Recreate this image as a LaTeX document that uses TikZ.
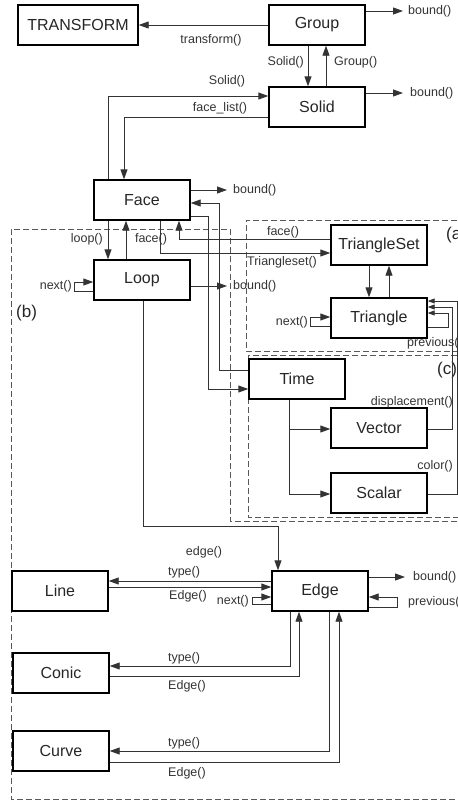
\documentclass[tikz,border=0pt]{standalone}
\usepackage{fontspec}
\setmainfont{Liberation Sans}
\usetikzlibrary{arrows.meta}

\tikzset{
  box/.style={draw=black, line width=1.4pt, minimum height=40pt, minimum width=96pt,
              inner sep=0pt, text=black!85, font=\fontsize{16}{18}\selectfont},
  conn/.style={draw=black!80, line width=0.9pt},
  arr/.style={conn, -{Triangle[length=10pt,width=7pt]}},
  sarr/.style={conn, -{Triangle[length=7pt,width=5pt]}},
  lbl/.style={inner sep=0pt, font=\fontsize{12.5}{14}\selectfont, text=black!80},
  region/.style={draw=black!65, line width=0.9pt, dash pattern=on 6pt off 3pt},
  tag/.style={inner sep=0pt, anchor=west, text=black!85, font=\fontsize{17}{19}\selectfont}
}

\begin{document}
\begin{tikzpicture}[x=1pt, y=-1pt]
\useasboundingbox (0,0) rectangle (458,801);

% dashed groupings (they run past the right edge)
\draw[region] (475,220) -- (246,220) -- (246,351) -- (475,351);
\draw[region] (475,355) -- (248,355) -- (248,517) -- (475,517);
\draw[region] (475,521) -- (230,521) -- (230,229) -- (11,229) -- (11,799) -- (475,799);
\node[tag] (tagA) at (446,235) {(a)};
\node[tag] (tagC) at (437,370) {(c)};
\node[tag] (tagB) at (16,313) {(b)};

% classes
\node[box, minimum width=120pt] (transform) at (78,25) {TRANSFORM};
\node[box] (group)  at (317,25)  {Group};
\node[box] (solid)  at (317,107) {Solid};
\node[box] (face)   at (142,200) {Face};
\node[box] (loop)   at (142,280) {Loop};
\node[box] (triset) at (379,245) {TriangleSet};
\node[box] (tri)    at (379,318) {Triangle};
\node[box] (time)   at (297,379) {Time};
\node[box] (vector) at (379,428) {Vector};
\node[box] (scalar) at (379,493) {Scalar};
\node[box] (line)   at (60,591)  {Line};
\node[box] (edge)   at (320,591) {Edge};
\node[box] (conic)  at (61,673)  {Conic};
\node[box] (curve)  at (61,751)  {Curve};

% Group
\draw[arr] (group.west) -- (transform.east);
\node[lbl] (l-transform) at (211,40) {transform()};
\coordinate (gb) at (403,11);
\draw[arr] (group.east |- gb) -- (gb);
\node[lbl, anchor=west] (l-gb) at (408,11) {bound()};
\draw[arr] (group.south -| 308,0) -- (solid.north -| 308,0);
\node[lbl, anchor=east] (l-solid1) at (304,62) {Solid()};
\draw[arr] (solid.north -| 326,0) -- (group.south -| 326,0);
\node[lbl, anchor=west] (l-group) at (334,62) {Group()};

% Solid
\coordinate (sb) at (403,93);
\draw[arr] (solid.east |- sb) -- (sb);
\node[lbl, anchor=west] (l-sb) at (410,93) {bound()};
\draw[arr] (face.north -| 108,0) -- (108,96) -- (solid.west |- 0,96);
\node[lbl] (l-solid2) at (227,81) {Solid()};
\draw[arr] (solid.west |- 0,117) -- (124,117) -- (face.north -| 124,0);
\node[lbl] (l-facelist) at (220,108) {face\_list()};

% Face
\coordinate (fb) at (227,190);
\draw[arr] (face.east |- fb) -- (fb);
\node[lbl, anchor=west] (l-fb) at (233,190) {bound()};
\draw[arr] (time.west |- 0,370) -- (219,370) -- (219,203) -- (face.east |- 0,203);
\draw[arr] (face.east |- 0,216) -- (208,216) -- (208,389) -- (time.west |- 0,389);
\draw[arr] (face.south -| 108,0) -- (loop.north -| 108,0);
\node[lbl, anchor=east] (l-loop) at (103,239) {loop()};
\draw[arr] (loop.north -| 126,0) -- (face.south -| 126,0);
\node[lbl] (l-face1) at (151,239) {face()};
\draw[arr] (triset.west |- 0,239) -- (179,239) -- (face.south -| 179,0);
\node[lbl] (l-face2) at (283,232) {face()};
\draw[arr] (face.south -| 160,0) -- (160,253) -- (triset.west |- 0,253);
\node[lbl] (l-triset) at (282,262) {Triangleset()};

% Loop
\coordinate (lb) at (227,286);
\draw[arr] (loop.east |- lb) -- (lb);
\node[lbl, anchor=west] (l-lb) at (233,286) {bound()};
\draw[arr] (loop.west |- 0,291) -- (74,291) -- (74,282) -- (loop.west |- 0,282);
\node[lbl, anchor=east] (l-lnext) at (72,286) {next()};
\draw[arr] (loop.south -| 143,0) -- (143,526) -- (278,526) -- (edge.north -| 278,0);
\node[lbl] (l-edge) at (204,552) {edge()};

% TriangleSet / Triangle
\draw[arr] (triset.south -| 369,0) -- (tri.north -| 369,0);
\draw[arr] (tri.north -| 389,0) -- (triset.south -| 389,0);
\draw[arr] (tri.west |- 0,326) -- (310,326) -- (310,317) -- (tri.west |- 0,317);
\node[lbl, anchor=east] (l-tnext) at (308,322) {next()};
\draw[sarr] (tri.east |- 0,327) -- (448,327) -- (448,313) -- (tri.east |- 0,313);
\node[lbl, anchor=west] (l-tprev) at (407,343) {previous()};
\draw[sarr] (vector.east |- 0,429) -- (452,429) -- (452,307) -- (tri.east |- 0,307);
\node[lbl, anchor=east] (l-disp) at (453,402) {displacement()};
\draw[sarr] (scalar.east |- 0,494) -- (457,494) -- (457,301) -- (tri.east |- 0,301);
\node[lbl, anchor=east] (l-color) at (453,466) {color()};

% Time
\draw[arr] (time.south -| 289,0) -- (289,494) -- (scalar.west |- 0,494);
\draw[arr] (289,429) -- (vector.west |- 0,429);

% Edge
\draw[arr] (edge.west |- 0,581) -- (line.east |- 0,581);
\node[lbl] (l-type1) at (184,572) {type()};
\draw[arr] (line.east |- 0,587) -- (edge.west |- 0,587);
\node[lbl] (l-edge1) at (188,596) {Edge()};
\draw[arr] (edge.west |- 0,604) -- (252,604) -- (252,597) -- (edge.west |- 0,597);
\node[lbl, anchor=east] (l-enext) at (249,601) {next()};
\coordinate (eb) at (405,577);
\draw[arr] (edge.east |- eb) -- (eb);
\node[lbl, anchor=west] (l-eb) at (413,577) {bound()};
\draw[arr] (edge.east |- 0,607) -- (397,607) -- (397,597) -- (edge.east |- 0,597);
\node[lbl, anchor=west] (l-eprev) at (408,602) {previous()};

% Conic
\draw[arr] (edge.south -| 290,0) -- (290,666) -- (conic.east |- 0,666);
\node[lbl] (l-type2) at (184,658) {type()};
\draw[arr] (conic.east |- 0,676) -- (299,676) -- (edge.south -| 299,0);
\node[lbl] (l-edge2) at (187,686) {Edge()};

% Curve
\draw[arr] (edge.south -| 329,0) -- (329,751) -- (curve.east |- 0,751);
\node[lbl] (l-type3) at (184,743) {type()};
\draw[arr] (curve.east |- 0,762) -- (339,762) -- (edge.south -| 339,0);
\node[lbl] (l-edge3) at (187,773) {Edge()};
\end{tikzpicture}
\end{document}
